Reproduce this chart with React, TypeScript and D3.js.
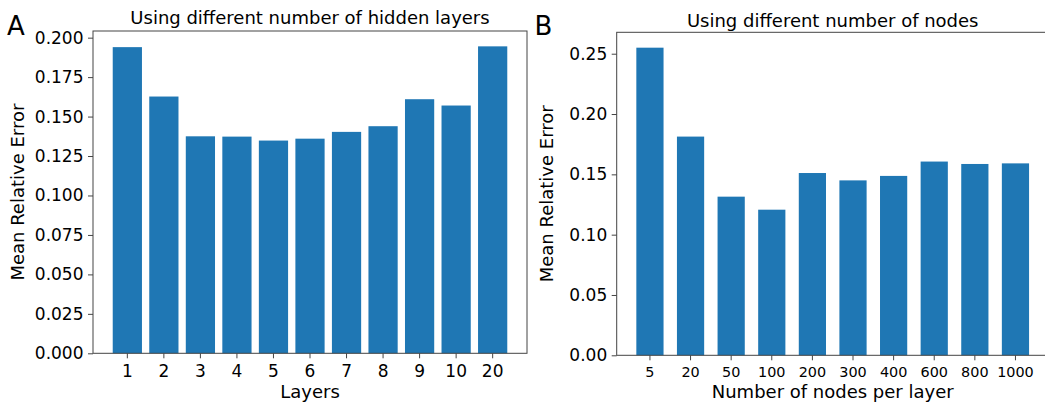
import { useEffect, useRef } from 'react'
import * as d3 from 'd3'

// values
const layerLabels = ['1', '2', '3', '4', '5', '6', '7', '8', '9', '10', '20']
const layerErrors = [0.194, 0.1627, 0.1375, 0.1373, 0.1348, 0.136, 0.1403, 0.1439, 0.161, 0.157, 0.1945]
const layerTicks = [0, 0.025, 0.05, 0.075, 0.1, 0.125, 0.15, 0.175, 0.2]

const nodeLabels = ['5', '20', '50', '100', '200', '300', '400', '600', '800', '1000']
const nodeErrors = [0.255, 0.1813, 0.1315, 0.1207, 0.1511, 0.145, 0.1487, 0.1606, 0.1586, 0.1591]
const nodeTicks = [0, 0.05, 0.1, 0.15, 0.2, 0.25]

const WIDTH = 1045
const HEIGHT = 405
const FONT = "'DejaVu Sans', sans-serif"
const BLUE = '#1f77b4'
const SPINE = '#444'

interface Panel {
  letter: string
  letterX: number
  title: string
  titleY: number
  xLabel: string
  yLabelX: number
  labels: string[]
  values: number[]
  ticks: number[]
  fmt: string
  barWidth: number
  left: number
  right: number
  top: number
  bottom: number
  xTickFont: number
  xTickPad: number
}

const panels: Panel[] = [
  {
    letter: 'A', letterX: 7, title: 'Using different number of hidden layers', titleY: 24,
    xLabel: 'Layers', yLabelX: 24,
    labels: layerLabels, values: layerErrors, ticks: layerTicks, fmt: '.3f', barWidth: 0.8,
    left: 93, right: 527, top: 31, bottom: 353.3, xTickFont: 17, xTickPad: 6.3,
  },
  {
    letter: 'B', letterX: 534.5, title: 'Using different number of nodes', titleY: 26.5,
    xLabel: 'Number of nodes per layer', yLabelX: 553,
    labels: nodeLabels, values: nodeErrors, ticks: nodeTicks, fmt: '.2f', barWidth: 0.67,
    left: 616.7, right: 1048.7, top: 32.3, bottom: 355.3, xTickFont: 14.4, xTickPad: 6.4,
  },
]

function drawPanel(svg: d3.Selection<SVGSVGElement, unknown, null, undefined>, p: Panel) {
  const { left, right } = p
  const n = p.labels.length

  // matplotlib-style layout: bars at integer positions with 5% margins
  const x = d3.scaleBand<string>()
    .domain(p.labels)
    .range([left, right])
    .paddingInner(1 - p.barWidth)
    .paddingOuter(0.05 * (n - 1 + p.barWidth))

  const y = d3.scaleLinear()
    .domain([0, d3.max(p.values)! * 1.05])
    .range([p.bottom, p.top])

  const g = svg.append('g')

  g.append('g')
    .selectAll('rect')
    .data(p.values)
    .join('rect')
    .attr('x', (_, i) => x(p.labels[i])!)
    .attr('y', (d) => y(d))
    .attr('width', x.bandwidth())
    .attr('height', (d) => y(0) - y(d))
    .attr('fill', BLUE)

  // y axis
  const yAxis = g.append('g')
    .attr('transform', `translate(${left},0)`)
    .call(d3.axisLeft(y).tickValues(p.ticks).tickFormat(d3.format(p.fmt) as any).tickSize(5).tickPadding(4.5))
  yAxis.select('.domain').remove()
  yAxis.attr('font-family', FONT).attr('font-size', 17).attr('color', '#000')
  yAxis.selectAll('line').attr('stroke', SPINE)

  // x axis
  const xAxis = g.append('g')
    .attr('transform', `translate(0,${p.bottom})`)
    .call(d3.axisBottom(x).tickSize(5).tickPadding(p.xTickPad))
  xAxis.select('.domain').remove()
  xAxis.attr('font-family', FONT).attr('font-size', p.xTickFont).attr('color', '#000')
  xAxis.selectAll('line').attr('stroke', SPINE)

  // frame
  g.append('rect')
    .attr('x', left)
    .attr('y', p.top)
    .attr('width', right - left)
    .attr('height', p.bottom - p.top)
    .attr('fill', 'none')
    .attr('stroke', SPINE)
    .attr('stroke-width', 1)

  // title
  g.append('text')
    .attr('x', (left + right) / 2)
    .attr('y', p.titleY)
    .attr('text-anchor', 'middle')
    .attr('font-family', FONT)
    .attr('font-size', 18)
    .text(p.title)

  // x label
  g.append('text')
    .attr('x', (left + right) / 2)
    .attr('y', 397.5)
    .attr('text-anchor', 'middle')
    .attr('font-family', FONT)
    .attr('font-size', 18)
    .text(p.xLabel)

  // y label
  g.append('text')
    .attr('transform', `translate(${p.yLabelX},${(p.top + p.bottom) / 2}) rotate(-90)`)
    .attr('text-anchor', 'middle')
    .attr('font-family', FONT)
    .attr('font-size', 18)
    .text('Mean Relative Error')

  // panel letter
  g.append('text')
    .attr('x', p.letterX)
    .attr('y', 35)
    .attr('font-family', FONT)
    .attr('font-size', 26)
    .text(p.letter)
}

export default function App() {
  const svgRef = useRef<SVGSVGElement>(null)

  useEffect(() => {
    if (!svgRef.current) return
    const svg = d3.select(svgRef.current)
    svg.selectAll('*').remove()

    svg.append('rect')
      .attr('width', WIDTH)
      .attr('height', HEIGHT)
      .attr('fill', '#fff')

    panels.forEach((p) => drawPanel(svg, p))
  }, [])

  return (
    <svg
      ref={svgRef}
      width={WIDTH}
      height={HEIGHT}
      style={{ position: 'absolute', left: 0, top: 0, display: 'block' }}
    />
  )
}
